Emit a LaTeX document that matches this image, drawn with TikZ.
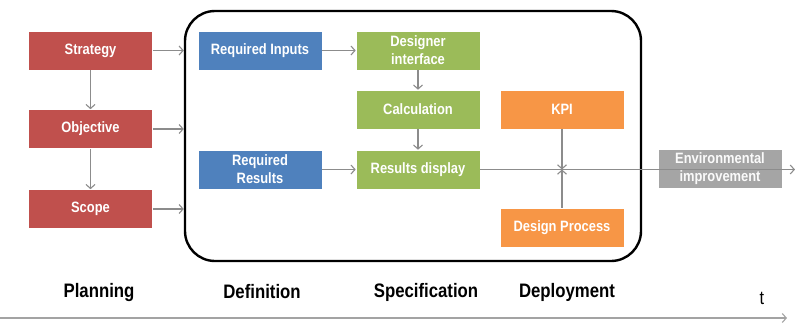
\documentclass[tikz,border=0pt]{standalone}
\usepackage{fontspec}
\setmainfont{Liberation Sans}[FakeStretch=0.86]
\usepackage{tikz}
\usetikzlibrary{positioning,arrows.meta}

\definecolor{redbox}{HTML}{C0504D}
\definecolor{bluebox}{HTML}{4F81BD}
\definecolor{greenbox}{HTML}{9BBB59}
\definecolor{orangebox}{HTML}{F79646}
\definecolor{graybox}{HTML}{A5A5A5}
\definecolor{linegray}{HTML}{8C8C8C}

\tikzset{
  stepbox/.style={draw=white,line width=0.6pt,minimum width=124pt,minimum height=39pt,
    align=center,text=white,font=\bfseries\fontsize{15}{18}\selectfont,inner sep=1pt},
  flow/.style={draw=linegray,line width=1.1pt,-{Straight Barb[length=4pt,width=9pt]}},
  phase/.style={font=\bfseries\fontsize{19.5}{22}\selectfont}
}

\begin{document}
\begin{tikzpicture}[x=1pt,y=-1pt]
\useasboundingbox (0,0) rectangle (795,324);

% frame
\node[draw=black,line width=2.4pt,rounded corners=30pt,minimum width=456pt,minimum height=250pt] (frame) at (413,136) {};

% planning
\node[stepbox,fill=redbox] (strat) at (90.5,50.5) {Strategy};
\node[stepbox,fill=redbox] (obj) at (90.5,129) {Objective};
\node[stepbox,fill=redbox] (scope) at (90.5,209) {Scope};

% definition
\node[stepbox,fill=bluebox] (reqin) at (260,50.5) {Required Inputs};
\node[stepbox,fill=bluebox] (reqres) at (260,169.5) {Required\\Results};

% specification
\node[stepbox,fill=greenbox] (desint) at (418,50.5) {Designer\\interface};
\node[stepbox,fill=greenbox] (calc) at (418,109.5) {Calculation};
\node[stepbox,fill=greenbox] (resdisp) at (418,169.5) {Results display};

% deployment
\node[stepbox,fill=orangebox] (kpi) at (562,109.5) {KPI};
\node[stepbox,fill=orangebox] (despro) at (562,227.5) {Design Process};

\node[stepbox,fill=graybox,text=white!95!graybox] (env) at (720,168.5) {Environmental\\improvement};

\coordinate (jn) at (kpi |- resdisp);
\coordinate (tend) at (795,169.5);

\draw[flow] (strat) -- (obj);
\draw[flow] (obj) -- (scope);
\draw[flow] (strat.east) -- (strat -| frame.west);
\draw[flow] (obj.east) -- (obj -| frame.west);
\draw[flow] (scope.east) -- (scope -| frame.west);
\draw[flow] (reqin) -- (desint);
\draw[flow] (reqres) -- (resdisp);
\draw[flow] (desint) -- (calc);
\draw[flow] (calc) -- (resdisp);
\draw[flow] (kpi) -- (jn);
\draw[flow] (despro) -- (jn);
\draw[flow] (resdisp.east) -- (tend);

% phases
\node[phase] (plan) at (99,292) {Planning};
\node[phase] (defn) at (262,292) {Definition};
\node[phase] (spec) at (426,292) {Specification};
\node[phase] (depl) at (567,292) {Deployment};
\node[font=\fontsize{19}{20}\selectfont] (tlab) at (762,298) {t};

\coordinate (t0) at (0,318);
\coordinate (t1) at (787,318);
\draw[flow,draw=linegray!80] (t0) -- (t1);

\end{tikzpicture}
\end{document}
